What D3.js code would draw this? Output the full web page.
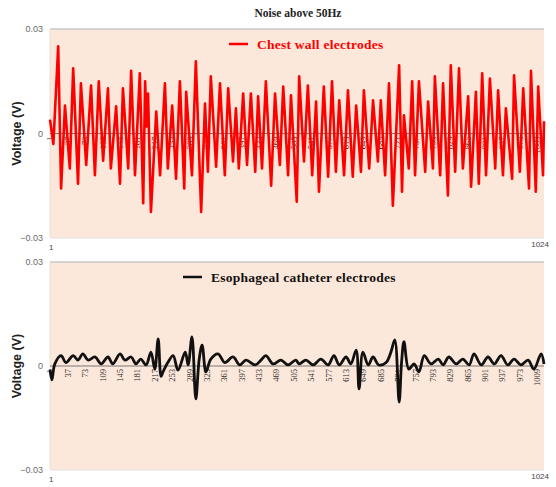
<!DOCTYPE html>
<html>
<head>
<meta charset="utf-8">
<script src="https://cdn.jsdelivr.net/npm/d3@7"></script>
<style>
  body { margin: 0; background: #ffffff; }
  svg { display: block; }
</style>
</head>
<body>
<div id="chart"></div>
<script>
// sample numbers and voltages
const chestIdx = [1, 8, 18, 24, 32, 42, 49, 59, 65, 76, 86, 94, 102, 111, 121, 127, 138, 146, 152, 163, 169,
    177, 187, 194, 198, 201, 204, 210, 221, 229, 239, 245, 254, 262, 270, 279, 283, 295, 303, 314, 322,
    328, 334, 345, 353, 363, 370, 380, 386, 392, 401, 409, 417, 426, 432, 440, 448, 459, 467, 477, 484,
    494, 500, 512, 517, 527, 535, 544, 552, 558, 568, 577, 585, 593, 600, 610, 618, 628, 635, 645, 651,
    662, 670, 680, 686, 695, 703, 711, 724, 730, 734, 744, 751, 757, 765, 778, 784, 794, 798, 809, 815,
    825, 831, 840, 848, 856, 867, 873, 883, 889, 896, 904, 912, 923, 929, 939, 945, 958, 962, 974, 981,
    993, 997, 1007, 1012, 1022, 1024];
const chestV = [0.004, -0.003, 0.025, -0.0158, 0.008, -0.010, 0.0187, -0.0144, 0.0144, -0.009, 0.0138, -0.012, 0.015,
    -0.0078, 0.013, -0.010, 0.0078, -0.0144, 0.013, -0.010, 0.018, -0.012, 0.0173, -0.020, 0.015, 0.002,
    0.0115, -0.0225, 0.0063, -0.012, 0.0144, -0.010, 0.008, -0.013, 0.015, -0.0158, 0.012, -0.012, 0.0207,
    -0.0225, 0.0086, -0.011, 0.0164, -0.0095, 0.0144, -0.012, 0.013, -0.008, 0.0072, -0.010, 0.0115,
    -0.009, 0.0115, -0.011, 0.0107, -0.010, 0.015, -0.015, 0.0115, -0.009, 0.0135, -0.012, 0.011, -0.0196,
    0.0164, -0.008, 0.0138, -0.012, 0.0092, -0.0167, 0.0135, -0.0124, 0.015, -0.011, 0.0095, -0.012, 0.0124,
    -0.0124, 0.008, -0.011, 0.0124, -0.010, 0.0095, -0.008, 0.0095, -0.012, 0.0144, -0.0207, 0.0196, -0.0167,
    0.0052, -0.010, 0.015, -0.012, 0.015, -0.011, 0.0092, -0.010, 0.0164, -0.012, 0.0144, -0.0178, 0.0196,
    -0.011, 0.0187, -0.010, 0.0107, -0.0153, 0.012, -0.0144, 0.0173, -0.012, 0.0158, -0.010, 0.0124, -0.012,
    0.0072, -0.013, 0.0167, -0.011, 0.013, -0.0158, 0.018, -0.0167, 0.0135, -0.012, 0.0035];

// sample numbers and voltages
const esoIdx = [1, 5, 11, 24, 34, 49, 59, 69, 80, 94, 107, 121, 131, 146, 156, 169, 179, 189, 200, 210,
    218, 225, 231, 235, 245, 256, 266, 281, 287, 295, 303, 310, 316, 324, 334, 349, 363, 380, 394, 407, 426, 438,
    448, 463, 479, 494, 510, 517, 531, 546, 562, 577, 589, 600, 614, 624, 635, 641, 649, 660, 670, 682,
    697, 707, 715, 724, 729, 734, 744, 755, 765, 776, 790, 805, 815, 827, 842, 856, 869, 879, 894, 908, 921,
    935, 949, 962, 976, 991, 1003, 1018, 1024];
const esoV = [-0.001, -0.004, 0.0006, 0.003, 0.001, 0.003, 0.0017, 0.0035, 0.0017, 0.0026, 0.0006, 0.0026,
    0.0006, 0.0035, 0.0017, 0.0026, 0.0006, 0.002, 0.0003, 0.004, -0.0009, 0.0078, -0.003, -0.0017, 0.001, 0.003,
    -0.0012, 0.004, 0.0003, 0.0084, -0.0095, 0.002, 0.006, -0.0017, 0.002, 0.0035, 0.001, 0.0026, 0.0003, 0.0017,
    0.0003, 0.0017, 0.003, 0.0006, 0.0017, 0.0003, 0.0017, 0.0006, 0.0017, 0.0003, 0.002, 0.0003, 0.003,
    0.0003, 0.0026, 0.0006, 0.0046, -0.0066, 0.004, 0.0003, 0.0026, 0.0003, 0.001, 0.004, 0.0075, -0.0104,
    0.001, 0.007, -0.0009, 0.0006, -0.0017, 0.003, 0.0006, 0.002, 0.0003, 0.0026, 0.0006, 0.002, 0.0003, 0.0035,
    0.0003, 0.0026, 0.0006, 0.003, 0.0003, 0.002, 0.0003, 0.0017, -0.0009, 0.0035, 0.0006];

// category labels along the zero line, y ticks, end labels
const catLabels = [1, 37, 73, 109, 145, 181, 217, 253, 289, 325, 361, 397, 433, 469, 505, 541, 577, 613,
    649, 685, 721, 757, 793, 829, 865, 901, 937, 973, 1009];
const yTicks = [-0.03, 0, 0.03];
const endLabels = [1, 1024];

const W = 556, H = 487;
const plotLeft = 50, plotRight = 544;

const svg = d3.select("#chart")
    .append("svg")
    .attr("width", W)
    .attr("height", H);

// title
svg.append("text")
    .attr("x", 298)
    .attr("y", 17)
    .attr("text-anchor", "middle")
    .attr("font-family", "Liberation Serif, serif")
    .attr("font-weight", "bold")
    .attr("font-size", "11.5px")
    .attr("fill", "#222")
    .text("Noise above 50Hz");

const x = d3.scaleLinear()
    .domain([1, 1024])
    .range([plotLeft, plotRight]);

function drawPanel(top, bottom, idx, vals, color, lineW, curve, legendText, legendX) {
    const y = d3.scaleLinear()
        .domain([-0.03, 0.03])
        .range([bottom, top]);

    // peach plot area
    svg.append("rect")
        .attr("x", plotLeft)
        .attr("y", top)
        .attr("width", plotRight - plotLeft)
        .attr("height", bottom - top)
        .attr("fill", "#fce8da");

    // top and bottom borders
    svg.append("line")
        .attr("x1", plotLeft).attr("x2", plotRight)
        .attr("y1", top).attr("y2", top)
        .attr("stroke", "#c9c9c9").attr("stroke-width", 1.5);
    svg.append("line")
        .attr("x1", plotLeft).attr("x2", plotRight)
        .attr("y1", bottom).attr("y2", bottom)
        .attr("stroke", "#e3e3e3").attr("stroke-width", 1);
    svg.append("line")
        .attr("x1", plotLeft).attr("x2", plotLeft)
        .attr("y1", top).attr("y2", bottom)
        .attr("stroke", "#ece0d6").attr("stroke-width", 1);

    // y axis tick labels
    svg.append("g")
        .attr("transform", `translate(${plotLeft - 4},0)`)
        .call(d3.axisLeft(y).tickValues(yTicks).tickSize(0).tickFormat(d => d === 0 ? "0" : d3.format(".2f")(d)))
        .call(g => g.select(".domain").remove())
        .selectAll("text")
        .attr("font-family", "Liberation Sans, sans-serif")
        .attr("font-size", "9px")
        .attr("fill", "#6a6a6a");

    // y axis title
    svg.append("text")
        .attr("transform", `translate(21,${y(0)}) rotate(-90)`)
        .attr("text-anchor", "middle")
        .attr("font-family", "Liberation Sans, sans-serif")
        .attr("font-weight", "bold")
        .attr("font-size", "12.5px")
        .attr("fill", "#222")
        .text("Voltage (V)");

    // zero line with the rotated category labels
    svg.append("line")
        .attr("x1", plotLeft).attr("x2", plotRight)
        .attr("y1", y(0)).attr("y2", y(0))
        .attr("stroke", "#777").attr("stroke-width", 1);

    svg.append("g")
        .attr("transform", `translate(0,${y(0)})`)
        .call(d3.axisBottom(x).tickValues(catLabels).tickSize(0).tickFormat(d3.format("d")))
        .call(g => g.select(".domain").remove())
        .selectAll("text")
        .attr("transform", "rotate(-90)")
        .attr("x", -3)
        .attr("y", 0)
        .attr("dy", "0.35em")
        .style("text-anchor", "end")
        .attr("font-family", "Liberation Serif, serif")
        .attr("font-size", "8.5px")
        .attr("fill", "#2a2a2a");

    // "1" and "1024" under the plot corners
    svg.selectAll(null)
        .data(endLabels)
        .enter()
        .append("text")
        .attr("x", d => d === 1 ? x(d) - 1 : x(d) + 5)
        .attr("y", d => d === 1 ? bottom + 12 : bottom + 9)
        .attr("text-anchor", d => d === 1 ? "start" : "end")
        .attr("font-family", "Liberation Sans, sans-serif")
        .attr("font-size", "8px")
        .attr("fill", "#444")
        .text(d => d);

    // the trace
    const line = d3.line()
        .x((d, i) => x(idx[i]))
        .y(d => y(d))
        .curve(curve);

    svg.append("path")
        .datum(vals)
        .attr("d", line)
        .attr("fill", "none")
        .attr("stroke", color)
        .attr("stroke-width", lineW)
        .attr("stroke-linejoin", "round");

    // legend
    const ly = top + 15;
    svg.append("line")
        .attr("x1", legendX).attr("x2", legendX + 19)
        .attr("y1", ly).attr("y2", ly)
        .attr("stroke", color).attr("stroke-width", 2.5);
    svg.append("text")
        .attr("x", legendX + 28)
        .attr("y", ly + 4.5)
        .attr("font-family", "Liberation Serif, serif")
        .attr("font-weight", "bold")
        .attr("font-size", "13.5px")
        .attr("letter-spacing", "0.25px")
        .attr("fill", color)
        .text(legendText);
}

drawPanel(29, 238, chestIdx, chestV, "#ff0000", 2.6, d3.curveLinear, "Chest wall electrodes", 229);
drawPanel(262, 470, esoIdx, esoV, "#111111", 2.8, d3.curveCatmullRom, "Esophageal catheter electrodes", 183);
</script>
</body>
</html>
